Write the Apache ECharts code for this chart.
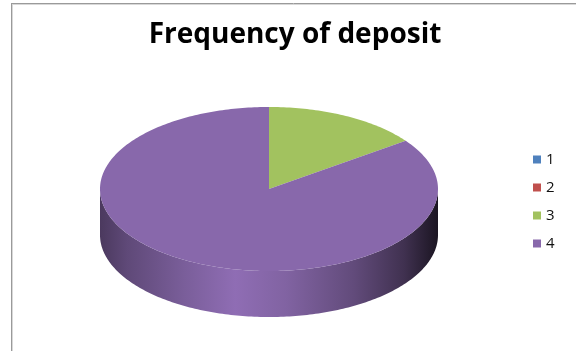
<!DOCTYPE html>
<html>
<head>
<meta charset="utf-8">
<script src="https://cdn.jsdelivr.net/npm/echarts@6/dist/echarts.min.js"></script>
<style>
  html, body { margin: 0; padding: 0; background: #ffffff; }
  #chart { width: 576px; height: 351px; }
</style>
</head>
<body>
<div id="chart"></div>
<script>
// Deposit frequency groups and their shares (percent)
const categories = ['1', '2', '3', '4'];
const shares = [0, 0, 15, 85];
const colors = ['#4f81bd', '#c0504d', '#a2c25f', '#8868ab'];

// Layout of the tilted pie (ellipse centre, radii, wall depth)
const CX = 269, CY = 189, RX = 169, RY = 82, DEPTH = 46;

const total = shares.reduce((s, v) => s + v, 0);

// Scale an rgb colour's channels by a factor (below 1 darkens, above 1 brightens)
function shade(hex, f) {
  const c = echarts.color.parse(hex);
  const ch = function (v) { return Math.max(0, Math.min(255, Math.round(v * f))); };
  return 'rgb(' + ch(c[0]) + ',' + ch(c[1]) + ',' + ch(c[2]) + ')';
}

function pt(deg, dy) {
  const r = deg * Math.PI / 180;
  return [CX + RX * Math.sin(r), CY - RY * Math.cos(r) + (dy || 0)];
}

function arcPoints(a, b, dy) {
  const pts = [];
  const steps = Math.max(2, Math.ceil(Math.abs(b - a)));
  for (let k = 0; k <= steps; k++) pts.push(pt(a + (b - a) * k / steps, dy));
  return pts;
}

function makeRenderer(idx) {
  return function (params, api) {
    const value = api.value(0);
    if (!value) return { type: 'group', children: [] };
    let before = 0;
    for (let j = 0; j < idx; j++) before += shares[j];
    const a = before / total * 360;
    const b = (before + value) / total * 360;
    const base = colors[idx];
    const children = [];

    // Front wall: part of the slice lying on the near half of the ellipse,
    // lit from the front-left and falling off to the right
    const wa = Math.max(a, 90), wb = Math.min(b, 270);
    if (wb > wa) {
      const top = arcPoints(wa, wb, 0);
      const bottom = arcPoints(wa, wb, DEPTH).reverse();
      children.push({
        type: 'polygon',
        z2: 1,
        shape: { points: top.concat(bottom) },
        style: {
          fill: {
            type: 'linear', global: true,
            x: CX - RX, y: 0, x2: CX + RX, y2: 0,
            colorStops: [
              { offset: 0, color: shade(base, 0.55) },
              { offset: 0.08, color: shade(base, 0.7) },
              { offset: 0.25, color: shade(base, 0.9) },
              { offset: 0.4, color: shade(base, 1.05) },
              { offset: 0.55, color: shade(base, 0.95) },
              { offset: 0.75, color: shade(base, 0.72) },
              { offset: 0.9, color: shade(base, 0.47) },
              { offset: 1, color: shade(base, 0.2) }
            ]
          }
        }
      });
    }

    // Top face of the slice
    children.push({
      type: 'polygon',
      z2: 2,
      shape: { points: [[CX, CY]].concat(arcPoints(a, b, 0)) },
      style: { fill: base }
    });

    return { type: 'group', children: children };
  };
}

const chart = echarts.init(document.getElementById('chart'), null, { renderer: 'canvas' });

chart.setOption({
  animation: false,
  backgroundColor: '#ffffff',
  title: {
    text: 'Frequency of deposit',
    left: 295,
    top: 21,
    textAlign: 'center',
    padding: 0,
    textStyle: {
      fontFamily: 'Open Sans',
      fontWeight: 'bold',
      fontSize: 28,
      color: '#000000'
    }
  },
  legend: {
    orient: 'vertical',
    left: 533,
    top: 152,
    padding: 0,
    itemWidth: 8,
    itemHeight: 8,
    itemGap: 13,
    icon: 'rect',
    data: categories,
    textStyle: { fontFamily: 'Open Sans', fontSize: 15, color: '#111111', lineHeight: 15 }
  },
  graphic: [
    { type: 'line', shape: { x1: 11.5, y1: 3, x2: 11.5, y2: 351 }, style: { stroke: '#9a9a9a', lineWidth: 1 } },
    { type: 'line', shape: { x1: 11, y1: 3.5, x2: 576, y2: 3.5 }, style: { stroke: '#9a9a9a', lineWidth: 1 } },
    { type: 'line', shape: { x1: 12.5, y1: 4, x2: 12.5, y2: 351 }, style: { stroke: '#d8d8d8', lineWidth: 1 } },
    { type: 'line', shape: { x1: 12, y1: 4.5, x2: 576, y2: 4.5 }, style: { stroke: '#d8d8d8', lineWidth: 1 } }
  ],
  series: categories.map(function (name, i) {
    return {
      type: 'custom',
      name: name,
      coordinateSystem: 'none',
      itemStyle: { color: colors[i] },
      renderItem: makeRenderer(i),
      data: [[shares[i]]]
    };
  })
});
</script>
</body>
</html>
